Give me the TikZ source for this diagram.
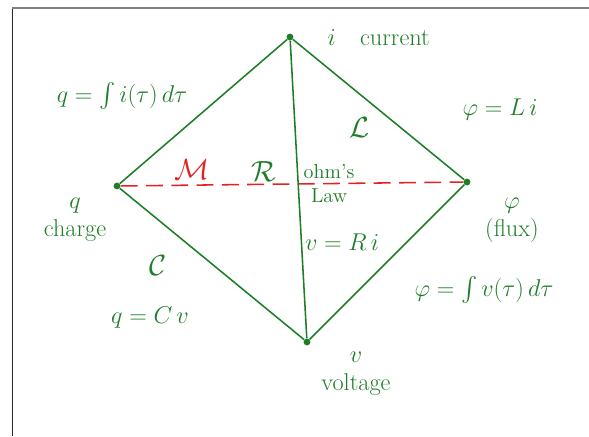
\documentclass[tikz,border=0pt]{standalone}
\usepackage{amsmath,amssymb}
\usetikzlibrary{arrows.meta}
\definecolor{pengreen}{RGB}{30,125,40}
\definecolor{penred}{RGB}{225,35,35}
\tikzset{
  vertex/.style={circle,fill=pengreen,inner sep=0pt,minimum size=0.17cm},
  edge/.style={pengreen,line width=1.1pt},
  lbl/.style={text=pengreen,align=center,inner sep=1pt}
}

\begin{document}
\begin{tikzpicture}[x=1cm,y=1cm,>=Stealth,font=\LARGE]
\useasboundingbox (0,0) rectangle (14.725,10.9);
% page frame
\draw[black!85,line width=0.8pt] (0.31,0)--(0.31,10.7);
\draw[gray,line width=0.8pt] (0.31,10.7)--(14.725,10.7);
% the four quantities
\node[vertex] (i) at (7.25,9.975) {};
\node[vertex] (q) at (2.925,6.25) {};
\node[vertex] (phi) at (11.675,6.35) {};
\node[vertex] (v) at (7.675,2.35) {};
\draw[penred,line width=1.1pt,dash pattern=on 12pt off 6pt] (q)--(phi);
\foreach \a/\b in {i/q,i/phi,q/v,phi/v,i/v}{
  \draw[edge] (\a)--(\b);
}
% vertex labels
\node[lbl,anchor=west] (ilbl) at (8.15,9.95) {$i$\quad current};
\node[lbl] (qlbl) at (1.875,5.4) {$q$\\[-2pt]charge};
\node[lbl] (philbl) at (12.8,5.4) {$\varphi$\\[-2pt](flux)};
\node[lbl] (vlbl) at (8.9,1.55) {$v$\\[-2pt]voltage};
% elements and relations
\node[lbl,font=\huge] (Mlbl) at (4.8,6.65) {\textcolor{penred}{$\mathcal{M}$}};
\node[lbl,font=\huge] (Rlbl) at (6.6,6.6) {$\mathcal{R}$};
\node[lbl,font=\Large,anchor=west] (ohm) at (7.55,6.3) {ohm's\\[-1pt]Law};
\node[lbl,font=\huge] (Llbl) at (9.0,7.7) {$\mathcal{L}$};
\node[lbl,font=\huge] (Clbl) at (3.95,4.25) {$\mathcal{C}$};
\node[lbl] (qint) at (3.05,8.5) {$q=\int i(\tau)\,d\tau$};
\node[lbl] (phiL) at (12.5,8.15) {$\varphi=L\,i$};
\node[lbl] (ohmlaw) at (8.55,4.85) {$v=R\,i$};
\node[lbl] (qCv) at (3.75,2.95) {$q=C\,v$};
\node[lbl] (phiint) at (12.1,3.65) {$\varphi=\int v(\tau)\,d\tau$};
\end{tikzpicture}
\end{document}
